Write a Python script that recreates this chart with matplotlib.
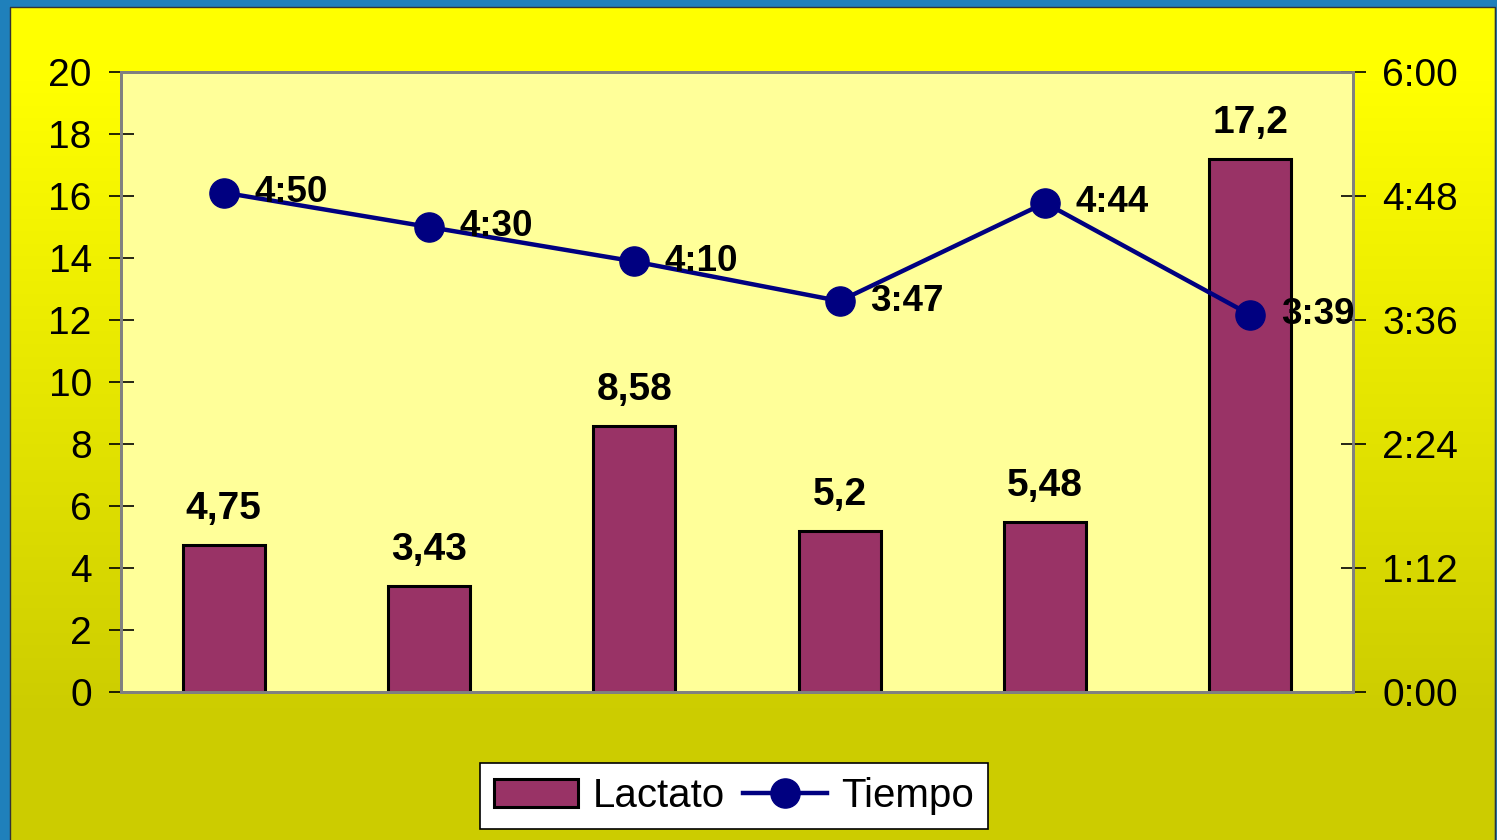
import numpy as np
import matplotlib.pyplot as plt
from matplotlib.patches import Rectangle

plt.rcParams['font.family'] = ['Liberation Sans', 'DejaVu Sans']

lactato = [4.75, 3.43, 8.58, 5.2, 5.48, 17.2]
lactato_txt = ["4,75", "3,43", "8,58", "5,2", "5,48", "17,2"]
tiempo_txt = ["4:50", "4:30", "4:10", "3:47", "4:44", "3:39"]
tiempo_min = [290, 270, 250, 227, 284, 219]
left_ticks = [0, 2, 4, 6, 8, 10, 12, 14, 16, 18, 20]
right_ticks = [0, 72, 144, 216, 288, 360]
right_labels = ["0:00", "1:12", "2:24", "3:36", "4:48", "6:00"]

W, H = 1497, 840
fig = plt.figure(figsize=(W / 100, H / 100), dpi=100)

# background: yellow fading to olive
bg = fig.add_axes([0, 0, 1, 1], zorder=-10)
rows = np.arange(H)
t = np.clip((rows - 80) / 640.0, 0, 1)
top = np.array([255, 255, 0]) / 255
bot = np.array([204, 204, 0]) / 255
grad = top[None, :] * (1 - t[:, None]) + bot[None, :] * t[:, None]
bg.imshow(grad[:, None, :], aspect='auto', extent=[0, W, H, 0])
bg.set_xlim(0, W)
bg.set_ylim(H, 0)
bg.axis('off')

# blue frame on the left, top and right edges
blue = '#1f80bb'
bg.add_patch(Rectangle((0, 0), 9, H, color=blue, zorder=5))
bg.add_patch(Rectangle((0, 0), W, 6, color=blue, zorder=5))
bg.add_patch(Rectangle((W - 2, 0), 2, H, color=blue, zorder=5))
bg.plot([9.5, 9.5, W - 2.5, W - 2.5], [H, 6.5, 6.5, H], color='#333333', lw=1, zorder=6)

ax = fig.add_axes([121 / W, 1 - 692 / H, (1353 - 121) / W, (692 - 72) / H])
ax.set_facecolor('#ffff99')
x = np.arange(len(lactato))
bars = ax.bar(x, lactato, width=0.4, color='#993366', edgecolor='black', linewidth=2.2,
              label='Lactato', zorder=2)
ax.set_xlim(-0.5, len(lactato) - 0.5)
ax.set_ylim(0, 20)
ax.set_yticks(left_ticks)
ax.set_xticks([])
ax.tick_params(axis='y', direction='inout', length=18, width=1.2, labelsize=28, pad=12)
for s in ax.spines.values():
    s.set_color('#808080')
    s.set_linewidth(2)

for xi, v, lab in zip(x, lactato, lactato_txt):
    ax.annotate(lab, (xi, v), xytext=(0, 13), textcoords='offset points',
                ha='center', va='bottom', fontsize=28, fontweight='bold')

ax2 = ax.twinx()
ax2.set_ylim(0, 360)
ax2.set_yticks(right_ticks)
ax2.set_yticklabels(right_labels)
ax2.tick_params(axis='y', direction='inout', length=18, width=1.2, labelsize=28, pad=12)
for s in ax2.spines.values():
    s.set_color('#808080')
    s.set_linewidth(2)
line, = ax2.plot(x, tiempo_min, color='#000080', lw=3.2, marker='o', markersize=21,
                 label='Tiempo', zorder=3)
for xi, v, lab in zip(x, tiempo_min, tiempo_txt):
    ax2.annotate(lab, (xi, v), xytext=(22, 0), textcoords='offset points',
                 ha='left', va='center', fontsize=26.5, fontweight='bold')

leg = fig.legend([bars, line], ['Lactato', 'Tiempo'], loc='center', ncol=2,
                 bbox_to_anchor=(734 / W, 1 - 796 / H), fontsize=29, frameon=True,
                 fancybox=False, edgecolor='black', facecolor='white', framealpha=1,
                 handlelength=2.1, handletextpad=0.35, columnspacing=0.45,
                 borderpad=0.35)
leg.get_frame().set_linewidth(1.2)

fig.savefig('out.png', dpi=100)
